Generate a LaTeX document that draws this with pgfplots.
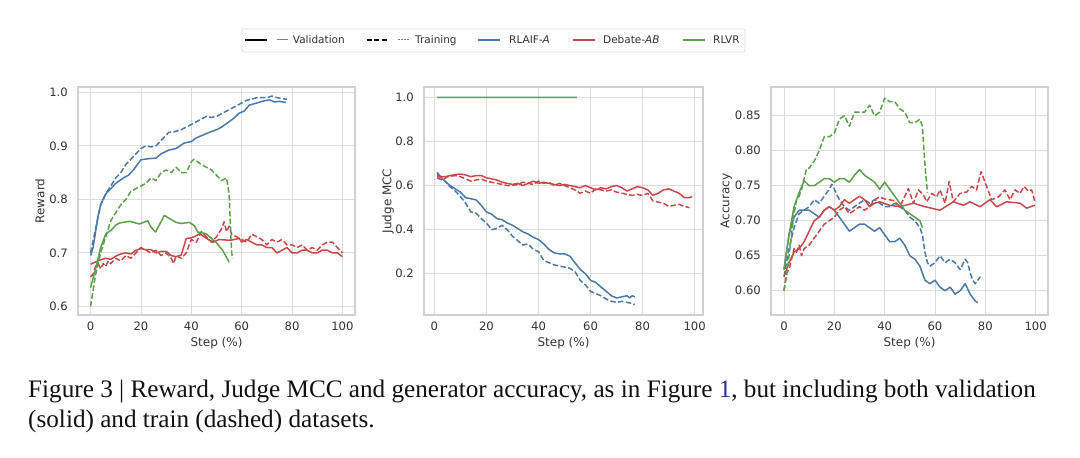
\documentclass[border=0pt]{standalone}
\usepackage{pgfplots}
\pgfplotsset{compat=1.18}
\usepackage{fontspec}
\setmainfont{DejaVu Sans}
\newfontfamily\capfont{Liberation Serif}
\definecolor{cblue}{HTML}{4A78A8}
\definecolor{cred}{HTML}{C8474A}
\definecolor{cgreen}{HTML}{5C9E4C}
\definecolor{frame}{HTML}{D0D0D0}
\definecolor{gridc}{HTML}{DCDCDC}
\definecolor{txt}{HTML}{333333}
\definecolor{linkc}{HTML}{2E2E9C}
\pgfplotsset{
  panel/.style={
    scale only axis, width=277pt, height=228pt, anchor=south west,
    axis line style={draw=frame, line width=1.1pt},
    grid=major, major grid style={draw=gridc, line width=0.9pt},
    major tick length=0pt,
    tick label style={font=\fontsize{11.6}{13}\selectfont, text=txt, inner sep=0pt},
    label style={font=\fontsize{12}{14}\selectfont, text=txt, inner sep=0pt},
    yticklabel style={anchor=east, xshift=-10pt},
    xticklabel style={anchor=north, yshift=-7pt},
    /pgf/number format/assume math mode=true,
    xtick={0,20,40,60,80,100},
    xlabel={Step (\%)},
    xlabel style={at={(axis description cs:0.5,0)}, anchor=base, yshift=-32pt},
    every axis plot/.append style={line width=1.5pt, no marks, line join=round},
  },
  val/.style={solid},
  trn/.style={dash pattern=on 5.5pt off 2.4pt},
}
\begin{document}
\begin{tikzpicture}[x=1pt,y=1pt]
\path[use as bounding box] (0,0) rectangle (1080,458);
% ---------------- Legend ----------------
\draw[draw=gridc, fill=white, rounded corners=2pt, line width=0.8pt] (242,406) rectangle (745,429);
\begin{scope}[font=\fontsize{10.5}{12}\selectfont, text=txt]
\draw[black, line width=2pt] (245,418) -- (267,418);
\draw[gray, line width=1pt] (276.7,418) -- (288,418);
\node[anchor=base west, inner sep=0pt] at (292.7,414.2) {Validation};
\draw[black, line width=2pt, dash pattern=on 5pt off 2.5pt] (366.7,418) -- (386.7,418);
\draw[gray, line width=1pt, dash pattern=on 2pt off 1pt] (398,418) -- (410,418);
\node[anchor=base west, inner sep=0pt] at (415,414.2) {Training};
\draw[cblue, line width=1.5pt] (478,418) -- (500,418);
\node[anchor=base west, inner sep=0pt] at (509,414.2) {RLAIF-\textit{A}};
\draw[cred, line width=1.5pt] (573,418) -- (595,418);
\node[anchor=base west, inner sep=0pt] at (603,414.2) {Debate-\textit{AB}};
\draw[cgreen, line width=1.5pt] (683,418) -- (705,418);
\node[anchor=base west, inner sep=0pt] at (713,414.2) {RLVR};
\end{scope}
% ---------------- Panel 1: Reward ----------------
\begin{axis}[panel, at={(78pt,143pt)},
  xmin=-5, xmax=105, ymin=0.584, ymax=1.0099,
  ytick={0.6,0.7,0.8,0.9,1.0},
  yticklabel style={/pgf/number format/.cd, fixed, fixed zerofill, precision=1},
  ylabel={Reward},
  ylabel style={at={(axis description cs:-0.121,0.5)}, anchor=base, rotate=0},
]
% RLAIF validation
\addplot[cblue, val] coordinates {(0,0.695)(1,0.71)(2,0.74)(3,0.77)(4,0.79)(5,0.80)(6,0.81)(8,0.82)(10,0.83)(13,0.84)(15,0.845)(17,0.855)(20,0.874)(23,0.876)(26,0.877)(28,0.885)(31,0.892)(34,0.895)(37,0.905)(40,0.908)(42,0.915)(44.6,0.92)(47,0.925)(50,0.93)(52,0.935)(55,0.945)(57,0.952)(59,0.961)(61,0.965)(63,0.976)(66,0.98)(68,0.983)(71,0.986)(73,0.982)(75,0.983)(77.6,0.981)};
% RLAIF training
\addplot[cblue, trn] coordinates {(0,0.70)(2,0.745)(4,0.79)(6,0.81)(8,0.825)(10,0.84)(12,0.85)(14,0.865)(16,0.875)(18,0.885)(20,0.895)(22,0.90)(24,0.898)(26,0.90)(28,0.91)(31,0.925)(33,0.926)(36,0.93)(38,0.935)(40,0.94)(42,0.945)(44,0.95)(46,0.955)(48,0.953)(50,0.955)(52,0.96)(54,0.965)(56,0.97)(58,0.975)(60,0.98)(62,0.985)(64,0.987)(66,0.99)(68,0.99)(70,0.99)(72,0.993)(74,0.99)(76,0.988)(78,0.987)};
% Debate validation
\addplot[cred, val] coordinates {(0,0.679)(2,0.683)(4,0.687)(6,0.69)(8,0.688)(10,0.694)(12,0.698)(14,0.70)(16,0.698)(18,0.705)(20,0.708)(22,0.706)(24,0.706)(26,0.70)(28,0.703)(30,0.703)(32,0.695)(34,0.693)(36,0.696)(38,0.727)(40,0.728)(42,0.732)(43.3,0.736)(46,0.727)(48.6,0.72)(51,0.725)(53.9,0.724)(56,0.724)(59,0.727)(60,0.72)(62,0.725)(64,0.72)(66,0.715)(68,0.715)(70,0.71)(72,0.71)(74,0.70)(76,0.705)(78,0.71)(80,0.70)(82,0.70)(84,0.705)(86,0.705)(88,0.70)(90,0.70)(92,0.705)(94,0.705)(96,0.70)(98,0.70)(100,0.693)};
% Debate training
\addplot[cred, trn] coordinates {(0,0.655)(1,0.66)(2,0.675)(3,0.68)(4,0.67)(5,0.68)(6,0.675)(7,0.685)(8,0.68)(10,0.69)(12,0.685)(14,0.695)(16,0.69)(18,0.70)(20,0.71)(22,0.705)(24,0.70)(26,0.705)(28,0.695)(30,0.70)(32,0.69)(33,0.68)(34,0.695)(36,0.69)(38,0.70)(40,0.725)(42,0.72)(44,0.74)(46,0.73)(48,0.72)(50,0.73)(52,0.745)(53,0.758)(54,0.74)(55,0.75)(56,0.735)(58,0.73)(60,0.725)(62,0.72)(64,0.735)(66,0.73)(68,0.725)(70,0.715)(72,0.725)(74,0.72)(76,0.725)(78,0.715)(80,0.715)(82,0.71)(84,0.715)(86,0.705)(88,0.71)(90,0.705)(92,0.715)(94,0.72)(96,0.72)(98,0.71)(100,0.70)};
% RLVR validation
\addplot[cgreen, val] coordinates {(0,0.635)(2,0.67)(4,0.71)(6,0.735)(8.3,0.743)(10,0.752)(11.6,0.756)(15.5,0.759)(19.4,0.754)(22.7,0.76)(24,0.748)(25.8,0.739)(29.3,0.77)(33.9,0.757)(36,0.755)(39.2,0.757)(41.2,0.751)(42.5,0.739)(45.8,0.736)(49.8,0.72)(52.4,0.705)(55,0.683)};
% RLVR training
\addplot[cgreen, trn] coordinates {(0,0.60)(1,0.63)(2,0.66)(4,0.70)(6,0.73)(8,0.76)(10,0.775)(12,0.79)(14,0.80)(16,0.815)(18,0.82)(20,0.825)(22,0.83)(24,0.84)(26,0.835)(28,0.85)(30,0.855)(32,0.85)(34,0.86)(36,0.85)(38,0.85)(40,0.87)(41,0.875)(44,0.865)(46,0.86)(48,0.855)(50,0.845)(52,0.835)(54,0.84)(55,0.81)(56,0.70)(56.5,0.69)};
\end{axis}
% ---------------- Panel 2: Judge MCC ----------------
\begin{axis}[panel, at={(424pt,143pt)}, width=279pt,
  xmin=-4, xmax=103.2, ymin=0.0127, ymax=1.047,
  ytick={0.2,0.4,0.6,0.8,1.0},
  yticklabel style={/pgf/number format/.cd, fixed, fixed zerofill, precision=1},
  ylabel={Judge MCC},
  ylabel style={at={(axis description cs:-0.1165,0.5)}, anchor=base, rotate=0},
]
\addplot[cgreen, trn] coordinates {(1,1.0)(10,1.0)(20,1.0)(30,1.0)(40,1.0)(50,1.0)(54.7,1.0)};
\addplot[draw=cgreen, solid, line width=1.6pt] coordinates {(1,1.0)(10,1.0)(20,1.0)(30,1.0)(40,1.0)(50,1.0)(54.7,0.9998)};
\addplot[cblue, val] coordinates {(1,0.66)(2,0.645)(4,0.62)(6,0.60)(8,0.585)(10,0.57)(12,0.545)(14,0.54)(16,0.535)(18,0.51)(20,0.48)(22,0.47)(24,0.45)(26,0.445)(28,0.43)(30,0.42)(32,0.405)(34,0.39)(36,0.38)(38,0.365)(40,0.355)(42,0.335)(44,0.31)(46,0.295)(48,0.29)(50,0.29)(52,0.28)(54,0.25)(56,0.22)(58,0.20)(60,0.17)(62,0.16)(64,0.14)(66,0.12)(68,0.10)(70,0.09)(72,0.095)(74,0.10)(75,0.09)(76,0.10)(77,0.095)};
\addplot[cblue, trn] coordinates {(1,0.65)(4,0.62)(6,0.595)(8,0.575)(10,0.55)(12,0.52)(14,0.48)(16,0.475)(18,0.45)(20,0.43)(22,0.40)(24,0.405)(26,0.42)(28,0.40)(30,0.37)(32,0.35)(34,0.33)(36,0.335)(38,0.31)(40,0.30)(42,0.26)(44,0.25)(46,0.24)(48,0.235)(50,0.23)(52,0.225)(54,0.21)(56,0.17)(58,0.15)(60,0.12)(62,0.11)(64,0.10)(66,0.085)(68,0.075)(70,0.07)(72,0.075)(74,0.07)(76,0.065)(77,0.06)};
\addplot[cred, val] coordinates {(1,0.64)(4,0.64)(6,0.645)(8,0.65)(10,0.652)(12,0.648)(14,0.64)(16,0.645)(18,0.645)(20,0.635)(22,0.63)(24,0.625)(26,0.615)(28,0.61)(30,0.605)(32,0.61)(34,0.60)(36,0.61)(38,0.62)(40,0.61)(42,0.615)(44,0.61)(46,0.605)(48,0.60)(50,0.605)(52,0.60)(54,0.595)(56,0.59)(58,0.60)(60,0.59)(62,0.58)(64,0.59)(66,0.585)(68,0.595)(70,0.60)(72,0.59)(74,0.575)(76,0.585)(78,0.595)(80,0.59)(82,0.58)(84,0.555)(86,0.565)(88,0.58)(90,0.585)(92,0.575)(94,0.565)(96,0.545)(98,0.545)(99,0.55)};
\addplot[cred, trn] coordinates {(1,0.635)(3,0.625)(5,0.64)(8,0.645)(10,0.64)(12,0.63)(14,0.62)(16,0.625)(18,0.63)(20,0.62)(22,0.615)(24,0.61)(26,0.605)(28,0.60)(30,0.60)(32,0.605)(34,0.615)(36,0.61)(38,0.605)(40,0.62)(42,0.61)(44,0.615)(46,0.60)(48,0.61)(50,0.60)(52,0.59)(54,0.58)(56,0.565)(58,0.575)(60,0.565)(62,0.585)(64,0.58)(66,0.575)(68,0.58)(70,0.57)(72,0.565)(74,0.56)(76,0.555)(78,0.56)(80,0.555)(82,0.565)(84,0.53)(86,0.525)(88,0.52)(90,0.505)(92,0.51)(94,0.515)(96,0.505)(98,0.50)};
\end{axis}
% ---------------- Panel 3: Accuracy ----------------
\begin{axis}[panel, at={(771pt,143pt)},
  xmin=-5.16, xmax=104.9, ymin=0.5653, ymax=0.891,
  ytick={0.60,0.65,0.70,0.75,0.80,0.85},
  yticklabel style={/pgf/number format/.cd, fixed, fixed zerofill, precision=2},
  ylabel={Accuracy},
  ylabel style={at={(axis description cs:-0.15,0.5)}, anchor=base, rotate=0},
]
\addplot[cblue, val] coordinates {(0,0.63)(2,0.68)(4,0.705)(6,0.715)(8,0.715)(10,0.715)(12,0.71)(14,0.705)(16,0.715)(18,0.72)(20,0.715)(22,0.705)(24,0.695)(26,0.685)(28,0.69)(30,0.695)(32,0.695)(34,0.69)(36,0.685)(38,0.69)(40,0.68)(42,0.67)(44,0.67)(46,0.675)(48,0.665)(50,0.65)(52,0.645)(54,0.635)(56,0.615)(58,0.61)(60,0.615)(62,0.605)(64,0.60)(66,0.605)(68,0.595)(70,0.60)(72,0.61)(74,0.595)(76,0.585)(77,0.583)};
\addplot[cblue, trn] coordinates {(0,0.62)(2,0.66)(4,0.69)(6,0.71)(8,0.715)(10,0.72)(12,0.73)(14,0.725)(16,0.735)(18,0.745)(19,0.752)(20,0.745)(22,0.73)(24,0.72)(26,0.715)(28,0.72)(30,0.725)(32,0.73)(34,0.725)(36,0.73)(38,0.725)(40,0.72)(42,0.72)(44,0.725)(46,0.72)(48,0.715)(50,0.705)(52,0.70)(54,0.69)(55,0.68)(56,0.655)(57,0.64)(58,0.635)(60,0.64)(62,0.65)(64,0.64)(66,0.645)(68,0.64)(70,0.63)(72,0.645)(73,0.64)(74,0.625)(75,0.615)(76,0.61)(78,0.62)};
\addplot[cred, val] coordinates {(0,0.62)(2,0.64)(4,0.655)(6,0.66)(8,0.67)(10,0.685)(12,0.70)(14,0.705)(16,0.715)(18,0.72)(20,0.715)(22,0.72)(24,0.73)(26,0.725)(28,0.73)(30,0.735)(32,0.73)(34,0.72)(36,0.725)(38,0.727)(42,0.722)(46,0.72)(51.4,0.725)(56,0.72)(62,0.715)(67.3,0.727)(71.3,0.722)(73.9,0.727)(77.9,0.72)(81.8,0.73)(84.5,0.72)(88.5,0.727)(93.8,0.725)(96.4,0.718)(99.7,0.722)};
\addplot[cred, trn] coordinates {(0,0.60)(1,0.625)(2,0.63)(3,0.645)(4,0.66)(5,0.655)(6,0.665)(7,0.65)(8,0.66)(10,0.665)(12,0.675)(14,0.685)(16,0.695)(18,0.70)(20,0.705)(22,0.715)(24,0.72)(26,0.71)(28,0.715)(30,0.72)(32,0.715)(34,0.72)(36,0.73)(38.1,0.734)(40,0.731)(43.4,0.729)(46.1,0.72)(49.4,0.746)(51.4,0.725)(53.4,0.744)(55.4,0.737)(56.7,0.727)(58.7,0.739)(60.7,0.734)(62,0.744)(64,0.725)(65.6,0.756)(67.3,0.727)(70,0.739)(72.6,0.741)(74.6,0.749)(76.5,0.744)(78.3,0.77)(80.5,0.749)(82.5,0.73)(85.2,0.734)(87.8,0.744)(89.8,0.73)(91.8,0.744)(93.8,0.739)(95.4,0.749)(97.1,0.742)(98.4,0.744)(99.7,0.727)};
\addplot[cgreen, val] coordinates {(0,0.63)(2,0.68)(4,0.72)(6,0.74)(8,0.757)(10,0.75)(12,0.75)(14,0.755)(16,0.76)(18,0.76)(20,0.755)(22,0.76)(24,0.76)(26,0.755)(28,0.765)(30,0.773)(32,0.765)(34,0.76)(36,0.755)(38,0.745)(40,0.755)(42,0.745)(44,0.735)(46,0.725)(48,0.715)(50,0.71)(52,0.705)(54,0.70)(55,0.69)};
\addplot[cgreen, trn] coordinates {(0,0.60)(1,0.62)(2,0.65)(3,0.68)(4,0.71)(5,0.73)(6,0.735)(7,0.745)(8,0.76)(9,0.775)(10,0.775)(12,0.785)(14,0.80)(16,0.82)(18,0.82)(20,0.825)(22,0.845)(24,0.85)(26,0.835)(28,0.855)(30,0.855)(32,0.855)(34,0.865)(36,0.85)(38,0.855)(40,0.875)(42,0.87)(44,0.87)(46,0.86)(48,0.855)(50,0.84)(52,0.84)(54,0.845)(55,0.835)(56,0.78)(57,0.74)};
\end{axis}
% ---------------- Caption ----------------
\begin{scope}[font=\capfont\fontsize{25.2}{30}\selectfont]
\node[anchor=base west, inner sep=0pt, text={rgb,255:red,17;green,17;blue,17}] at (28,60) {Figure 3 | Reward, Judge MCC and generator accuracy, as in Figure \textcolor{linkc}{1}, but including both validation};
\node[anchor=base west, inner sep=0pt, text={rgb,255:red,17;green,17;blue,17}] at (28,30) {(solid) and train (dashed) datasets.};
\end{scope}
\end{tikzpicture}
\end{document}
